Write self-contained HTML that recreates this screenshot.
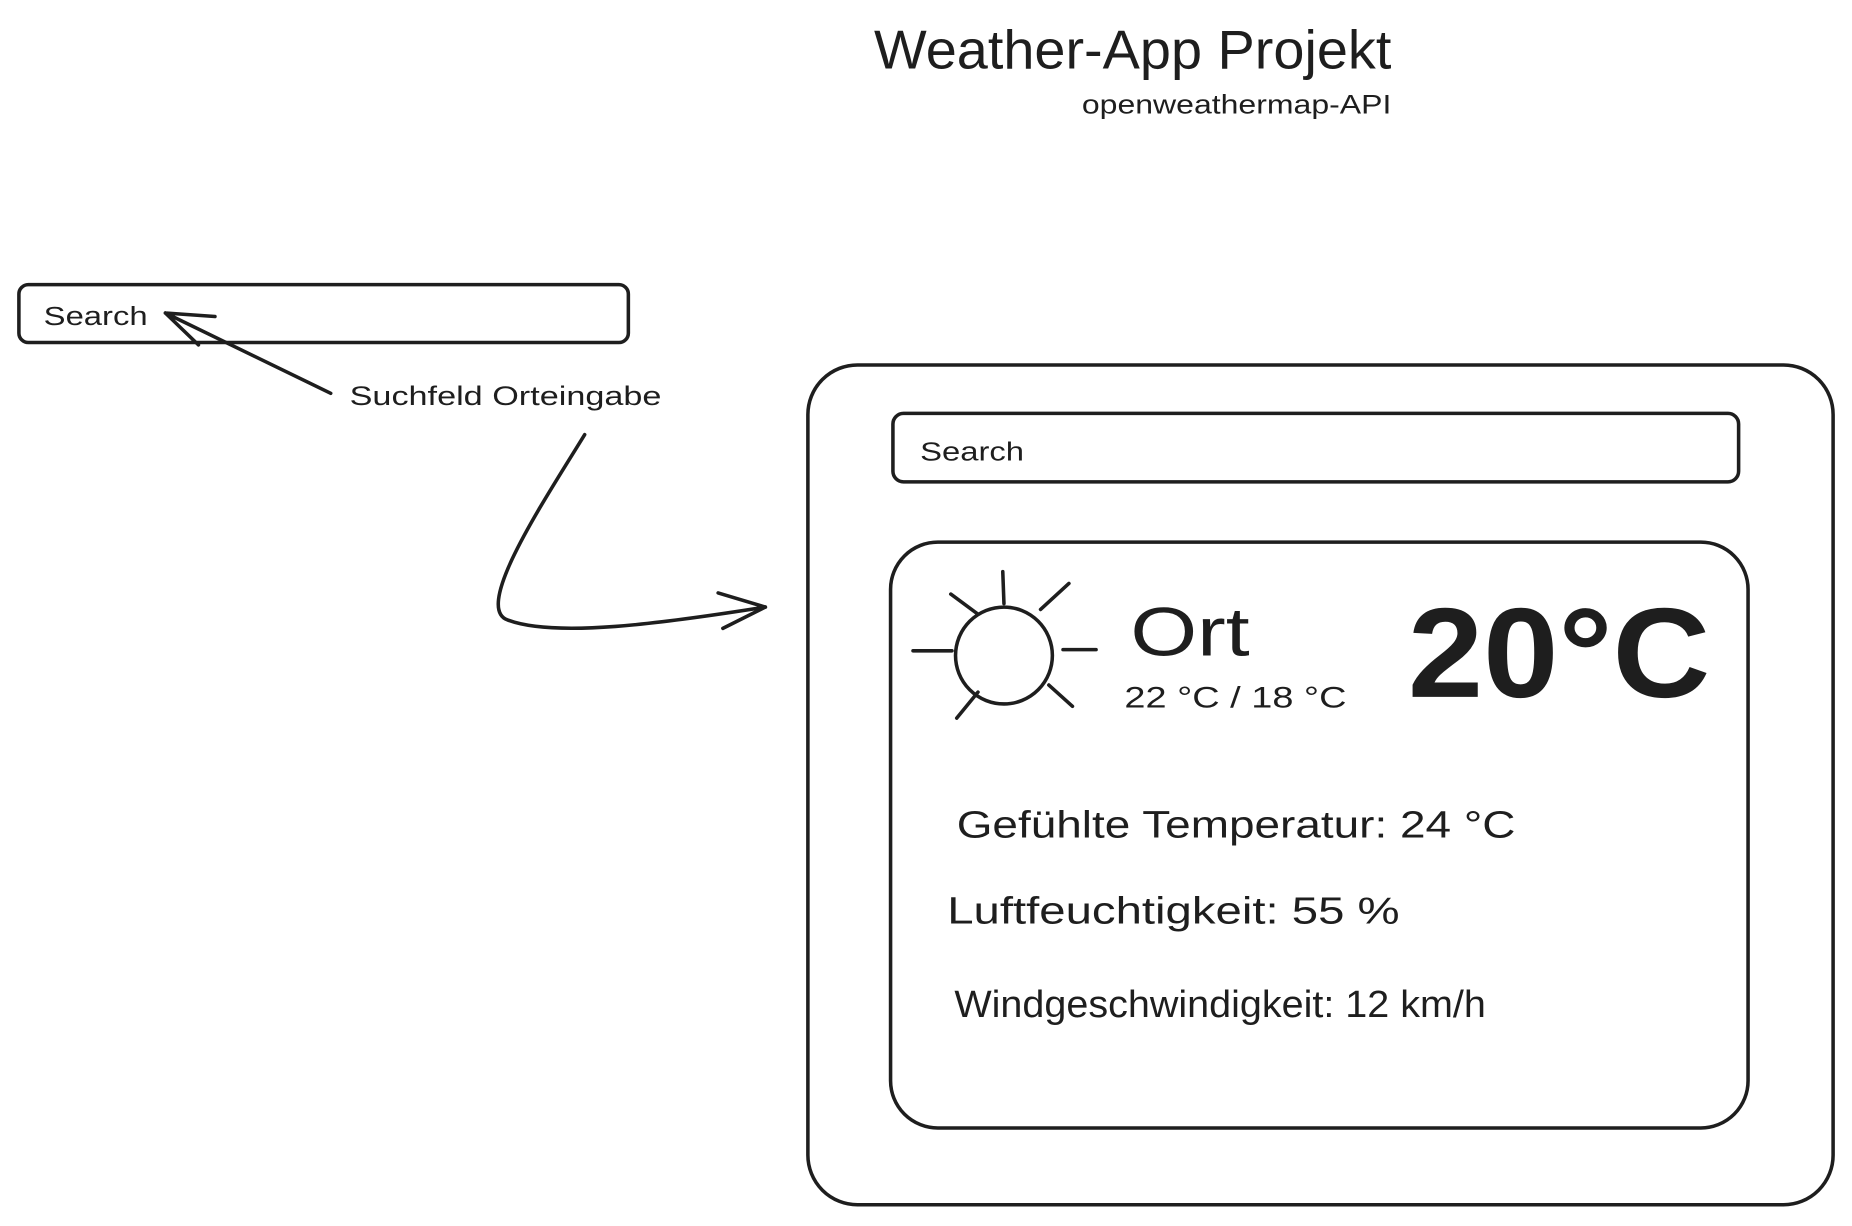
<!DOCTYPE html>
<html><head><meta charset="utf-8"><style>html,body{margin:0;padding:0;background:#fff;width:1852px;height:1226px;overflow:hidden}</style></head>
<body>
<svg width="1852" height="1226" viewBox="0 0 1568 1038" preserveAspectRatio="none" xmlns="http://www.w3.org/2000/svg" font-family="Liberation Sans, sans-serif" fill="none" stroke="#1e1e1e" stroke-linecap="round" stroke-linejoin="round">
<text x="740" y="58" font-size="46" fill="#1e1e1e" stroke="none" textLength="438" lengthAdjust="spacingAndGlyphs">Weather-App Projekt</text>
<text x="916" y="96" font-size="23" fill="#1e1e1e" stroke="none" textLength="262" lengthAdjust="spacingAndGlyphs">openweathermap-API</text>

<rect x="16" y="241" width="516" height="49" rx="8" stroke-width="3"/>
<text x="37" y="275" font-size="22" fill="#1e1e1e" stroke="none" textLength="88" lengthAdjust="spacingAndGlyphs">Search</text>
<path d="M280 333 L140 265 M140 265 L182 268 M140 265 L168 292" stroke-width="3"/>
<text x="296" y="343" font-size="23" fill="#1e1e1e" stroke="none" textLength="264" lengthAdjust="spacingAndGlyphs">Suchfeld Orteingabe</text>
<path d="M495 368 C460 425 400 515 430 525 C470 540 560 528 648 514" stroke-width="3"/>
<path d="M648 514 L608 502 M648 514 L612 532" stroke-width="3"/>

<rect x="684" y="309" width="868" height="711" rx="42" stroke-width="3"/>
<rect x="756" y="350" width="716" height="58" rx="9" stroke-width="3"/>
<text x="779" y="390" font-size="22" fill="#1e1e1e" stroke="none" textLength="88" lengthAdjust="spacingAndGlyphs">Search</text>
<rect x="754" y="459" width="726" height="496" rx="40" stroke-width="3"/>

<circle cx="850" cy="555" r="41" stroke-width="3"/>
<path d="M849 484 L850 511 M805 503 L828 520 M905 494 L881 516 M773 551 L806 551 M900 550 L928 550 M810 608 L828 586 M908 598 L888 580" stroke-width="3"/>
<text x="957" y="555" font-size="58" fill="#1e1e1e" stroke="none" textLength="101" lengthAdjust="spacingAndGlyphs">Ort</text>
<text x="952" y="599" font-size="25" fill="#1e1e1e" stroke="none" textLength="188" lengthAdjust="spacingAndGlyphs">22 °C / 18 °C</text>
<text x="1192" y="590" font-size="108" font-weight="bold" fill="#1e1e1e" stroke="none" textLength="256" lengthAdjust="spacingAndGlyphs">20°C</text>

<text x="810" y="709" font-size="32" fill="#1e1e1e" stroke="none" textLength="473" lengthAdjust="spacingAndGlyphs">Gefühlte Temperatur: 24 °C</text>
<text x="802" y="782" font-size="32" fill="#1e1e1e" stroke="none" textLength="383" lengthAdjust="spacingAndGlyphs">Luftfeuchtigkeit: 55 %</text>
<text x="808" y="861" font-size="32" fill="#1e1e1e" stroke="none" textLength="450" lengthAdjust="spacingAndGlyphs">Windgeschwindigkeit: 12 km/h</text>
</svg>
</body></html>
